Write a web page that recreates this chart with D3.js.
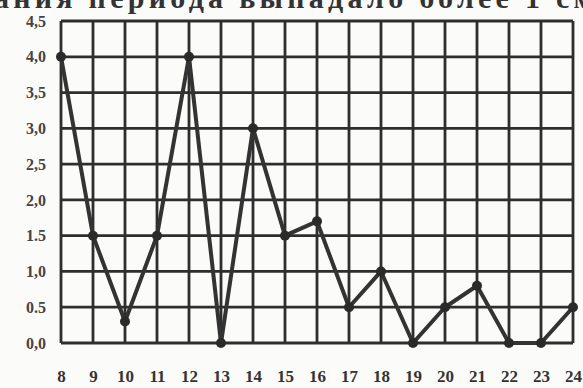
<!DOCTYPE html>
<html><head><meta charset="utf-8">
<script src="https://cdn.jsdelivr.net/npm/d3@7"></script>
<style>html,body{margin:0;padding:0;background:#fbfbfa;}svg{display:block;}</style>
</head><body>
<script>
const hours = [8,9,10,11,12,13,14,15,16,17,18,19,20,21,22,23,24];
const values = [4.0,1.5,0.3,1.5,4.0,0.0,3.0,1.5,1.7,0.5,1.0,0.0,0.5,0.8,0.0,0.0,0.5];
const yTicks = [0,0.5,1,1.5,2,2.5,3,3.5,4,4.5];
const yTickLabels = ["0,0","0.5","1,0","1.5","2,0","2,5","3,0","3,5","4,0","4,5"];
const headerText = "ания периода выпадало более 1 см";

const W = 583, H = 388;
const svg = d3.select("body").append("svg").attr("width", W).attr("height", H);
svg.append("rect").attr("width", W).attr("height", H).attr("fill", "#fbfbfa");

const x = d3.scaleLinear().domain([8, 24]).range([61, 573]);
const y = d3.scaleLinear().domain([0, 4.5]).range([343, 21]);

svg.append("text").attr("x", -6).attr("y", 8)
  .attr("font-family", "Liberation Serif").attr("font-weight", "bold")
  .attr("font-size", 30).attr("fill", "#333").attr("textLength", 600)
  .attr("lengthAdjust", "spacing")
  .text(headerText);

const ink = "#2e2e2e";
const g = svg.append("g");
g.selectAll(".vg").data(hours).join("line")
  .attr("x1", d => x(d)).attr("x2", d => x(d)).attr("y1", y(4.5)).attr("y2", y(0))
  .attr("stroke", ink).attr("stroke-width", 2.8);
g.selectAll(".hg").data(yTicks).join("line")
  .attr("x1", x(8)).attr("x2", x(24)).attr("y1", d => y(d)).attr("y2", d => y(d))
  .attr("stroke", ink).attr("stroke-width", 2.8);

const yAxis = d3.axisLeft(y).tickValues(yTicks).tickSize(0).tickPadding(0)
  .tickFormat((d, i) => yTickLabels[i]);
const ya = svg.append("g").attr("transform", "translate(46,0)").call(yAxis);
ya.select(".domain").remove();
ya.selectAll("text").attr("font-family", "Liberation Serif").attr("font-weight", "bold")
  .attr("font-size", 16).attr("fill", "#444").attr("dy", "0.32em");

const xAxis = d3.axisBottom(x).tickValues(hours).tickSize(0).tickPadding(0)
  .tickFormat(d3.format("d"));
const xa = svg.append("g").attr("transform", "translate(0,370)").call(xAxis);
xa.select(".domain").remove();
xa.selectAll("text").attr("font-family", "Liberation Serif").attr("font-weight", "bold")
  .attr("font-size", 17).attr("fill", "#333");

const line = d3.line().x((d, i) => x(hours[i])).y(d => y(d));
svg.append("path").datum(values).attr("d", line).attr("fill", "none")
  .attr("stroke", "#333").attr("stroke-width", 4).attr("stroke-linejoin", "round");
svg.selectAll(".pt").data(values).join("circle")
  .attr("cx", (d, i) => x(hours[i])).attr("cy", d => y(d)).attr("r", 5).attr("fill", "#2a2a2a");
</script>
</body></html>
